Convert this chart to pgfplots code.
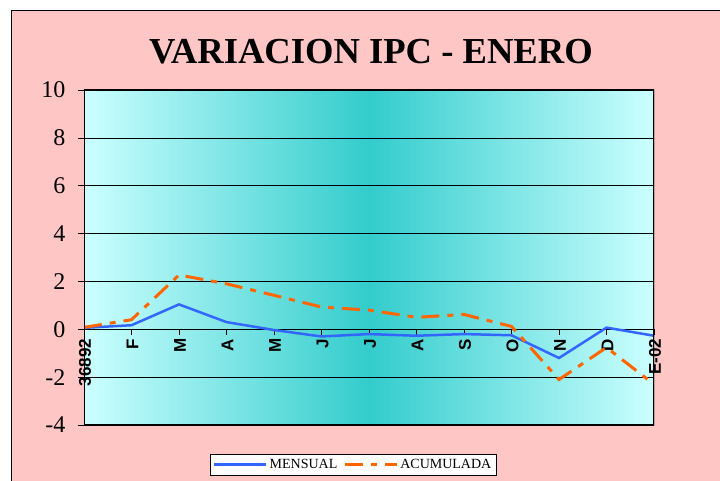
\documentclass[border=0pt]{standalone}
\usepackage{fontspec}
\setmainfont{Liberation Serif}
\newfontfamily\arial{Liberation Sans}
\usepackage{pgfplots}
\pgfplotsset{compat=1.18}
\definecolor{pinkbg}{RGB}{255,198,198}
\definecolor{cyanlight}{RGB}{204,255,255}
\definecolor{tealc}{RGB}{51,204,204}
\definecolor{mblue}{RGB}{51,102,255}
\definecolor{aorange}{RGB}{255,102,0}
\begin{document}
\begin{tikzpicture}
\useasboundingbox (0,0) rectangle (720pt,-481pt);
\fill[white] (0,0) rectangle (720pt,-481pt);
\draw[fill=pinkbg, line width=0.8pt] (11pt,-10pt) rectangle (730pt,-490pt);
\node[anchor=base, font=\fontsize{36.6}{40}\selectfont\bfseries, inner sep=0pt] at (371pt,-64pt) {VARIACION IPC - ENERO};
\begin{axis}[
  at={(84pt,-425pt)}, anchor=south west,
  scale only axis, width=570pt, height=335pt,
  xmin=0, xmax=12, ymin=-4, ymax=10,
  axis x line*=middle, axis y line*=left,
  hide obscured x ticks=false,
  tick align=outside,
  major tick length=6pt,
  ytick={-4,-2,...,10},
  ymajorgrids,
  grid style={black, line width=0.6pt},
  /pgf/number format/assume math mode=true,
  y tick label style={font=\fontsize{24}{24}\selectfont, xshift=-9pt},
  xtick={0,...,12},
  xticklabels={36892,F,M,A,M,J,J,A,S,O,N,D,E-02},
  x tick label style={rotate=90, anchor=east, yshift=-1pt, font=\arial\bfseries\fontsize{17}{17}\selectfont},
  tick style={black, line width=0.6pt},
  axis line style={black, line width=0.8pt, -},
  axis background/.style={left color=cyanlight, right color=cyanlight, middle color=tealc},
  legend style={at={(0.221,-0.0866)}, anchor=north west, draw=black, fill=white,
    font=\fontsize{14}{14}\selectfont, legend columns=2,
    /tikz/every even column/.append style={column sep=4pt}, inner ysep=3pt},
  legend image code/.code={\draw[#1] (0pt,0pt) -- (52pt,0pt);},
]
\addplot[mblue, line width=2.5pt, sharp plot] coordinates {
(0,0.06) (1,0.17) (2,1.04) (3,0.3) (4,-0.03) (5,-0.3) (6,-0.2) (7,-0.27) (8,-0.2) (9,-0.25) (10,-1.2) (11,0.07) (12,-0.27)};
\addlegendentry{MENSUAL}
\addplot[aorange, line width=3pt, sharp plot, dash pattern=on 18pt off 8pt on 6pt off 8pt] coordinates {
(0,0.08) (1,0.4) (2,2.27) (3,1.9) (4,1.42) (5,0.93) (6,0.8) (7,0.5) (8,0.62) (9,0.12) (10,-2.1) (11,-0.76) (12,-2.3)};
\addlegendentry{ACUMULADA}
\draw[black, line width=1pt] (rel axis cs:0,0) rectangle (rel axis cs:1,1);
\draw[black, line width=2pt] (rel axis cs:0,0) -- (rel axis cs:1,0) -- (rel axis cs:1,1);
\end{axis}
\end{tikzpicture}
\end{document}
